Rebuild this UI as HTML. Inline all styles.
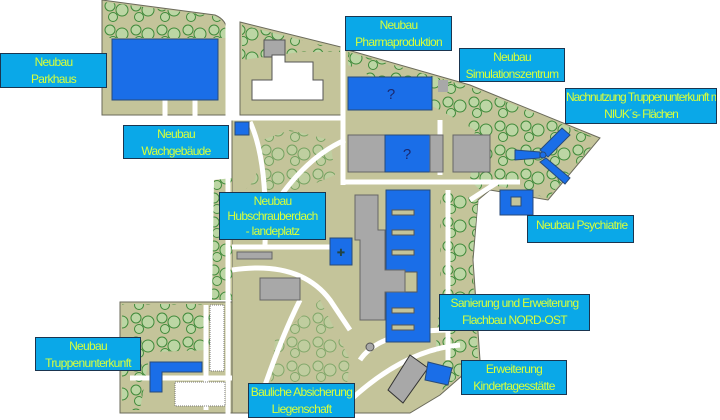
<!DOCTYPE html>
<html><head><meta charset="utf-8"><style>
body{margin:0;background:#fff;width:720px;height:420px;overflow:hidden;position:relative;font-family:"Liberation Sans",sans-serif}
.l{position:absolute;background:#0aa8e8;border:1.5px solid #1a3550;box-sizing:border-box;color:#d8ff3a;font-size:12px;letter-spacing:-0.7px;text-align:center;line-height:17px;padding-top:0px}
</style></head><body>
<svg width="720" height="420" style="position:absolute;left:0;top:0">
<defs>
<pattern id="tr" width="26" height="24" patternUnits="userSpaceOnUse">
<rect width="26" height="24" fill="#c4c49a"/>
<circle cx="6" cy="6" r="5" fill="#bcd6a4" stroke="#3f8a3a" stroke-width="1"/>
<circle cx="18" cy="10" r="6" fill="#bcd6a4" stroke="#3f8a3a" stroke-width="1"/>
<circle cx="9" cy="17" r="4.5" fill="#bcd6a4" stroke="#3f8a3a" stroke-width="1"/>
</pattern>
</defs>
<g fill="#c4c49a" stroke="#6a6a5a" stroke-width="1">
<path d="M102,0 L215,15 Q227,20 227,32 L227,115 L102,115 Z"/>
<path d="M240,22 L345,48 L345,115 L240,115 Z"/>
<path d="M348,50 L470,85 L600,138 L548,200 L490,190 L478,200 L473,260 L480,360 L440,395 L410,413 L232,413 L232,120 L345,120 L345,50 Z"/>
<path d="M120,302 L232,302 L232,413 L120,413 Z"/>
</g>
<g fill="url(#tr)">
<path d="M104,2 L215,16 Q226,22 226,34 L226,38 L104,38 Z"/>
<path d="M242,25 L340,50 L340,52 L300,52 L242,60 Z"/>
<path d="M348,52 L470,87 L598,139 L548,198 L500,186 L480,190 L470,180 L475,130 L440,110 L348,65 Z"/>
<path d="M440,188 L478,200 L472,260 L478,360 L440,392 L436,345 L440,300 Z"/>
<path d="M122,304 L210,304 L210,350 L150,352 L140,410 L122,410 Z"/>
<path d="M214,180 L232,178 L232,300 L212,300 Z"/>
<path d="M245,190 L255,180 L262,140 L290,130 L330,140 L335,175 L300,190 Z" opacity=".6"/>
<path d="M320,300 L350,360 L345,400 L300,408 L270,390 L275,340 Z" opacity=".5"/>
</g>
<g fill="none" stroke="#fff" stroke-width="5">
<path d="M228,0 L228,420"/><path d="M102,118 L345,118"/><path d="M343,30 L343,185"/>
<path d="M345,182 L520,182"/><path d="M498,182 L470,200"/>
<path d="M232,247 L330,247"/><path d="M250,122 Q268,160 265,245"/>
<path d="M265,220 Q300,160 345,140"/><path d="M440,120 L440,175"/>
<path d="M232,270 Q300,260 330,300 L350,330"/><path d="M300,300 Q280,340 260,400"/>
<path d="M360,360 Q380,330 450,330"/><path d="M340,410 Q400,350 460,345"/>
<path d="M448,190 L448,360"/><path d="M130,378 L232,378"/><path d="M206,305 L206,410"/>
<path d="M165,100 L165,118"/><path d="M195,100 L195,118"/>
</g>
<rect x="112" y="39" width="106" height="61" fill="#1a6ee8" stroke="#284a78"/>
<rect x="264" y="40" width="21" height="17" fill="#a8a8a8" stroke="#555"/>
<path d="M272,55 L285,55 L285,62 L313,62 L313,80 L323,80 L323,100 L252,100 L252,80 L272,80 Z" fill="#fff" stroke="#555"/>
<rect x="235" y="122" width="14" height="13" fill="#1a6ee8" stroke="#284a78"/>
<rect x="348" y="77" width="84" height="33" fill="#1a6ee8" stroke="#284a78"/>
<text x="391" y="99" font-size="15" fill="#1a2a70" text-anchor="middle">?</text>
<rect x="438" y="80" width="10" height="12" fill="#a8a8a8"/>
<rect x="348" y="135" width="37" height="37" fill="#a8a8a8" stroke="#666"/>
<rect x="385" y="135" width="45" height="37" fill="#1a6ee8" stroke="#284a78"/>
<text x="407" y="159" font-size="15" fill="#1a2a70" text-anchor="middle">?</text>
<rect x="430" y="135" width="13" height="37" fill="#a8a8a8" stroke="#666"/>
<rect x="453" y="135" width="37" height="37" fill="#a8a8a8" stroke="#666"/>
<g fill="#1a6ee8" stroke="#284a78">
<path d="M515,150 L540,152 L540,158 L515,160 Z"/>
<path d="M540,150 L562,128 L570,135 L548,157 Z"/>
<path d="M546,158 L570,178 L565,184 L540,162 Z"/>
<circle cx="543" cy="155" r="3"/>
</g>
<rect x="500" y="190" width="33" height="25" fill="#1a6ee8" stroke="#284a78"/>
<rect x="511" y="197" width="10" height="9" fill="#c4c49a" stroke="#284a78"/>
<rect x="386" y="190" width="44" height="152" fill="#1a6ee8" stroke="#284a78"/>
<g fill="#c4c49a" stroke="#555">
<rect x="392" y="210" width="22" height="5"/><rect x="392" y="230" width="22" height="5"/>
<rect x="392" y="250" width="22" height="5"/><rect x="392" y="272" width="25" height="20"/>
<rect x="392" y="308" width="22" height="5"/><rect x="392" y="325" width="22" height="5"/>
</g>
<path d="M355,195 L378,195 L378,230 L385,230 L385,270 L405,270 L405,292 L385,292 L385,320 L360,320 L360,240 L355,240 Z" fill="#a8a8a8" stroke="#666"/>
<rect x="330" y="238" width="22" height="27" fill="#1a6ee8" stroke="#284a78"/>
<text x="341" y="256" font-size="10" fill="#244" text-anchor="middle">✚</text>
<rect x="237" y="252" width="35" height="7" fill="#a8a8a8" stroke="#666"/>
<rect x="260" y="278" width="40" height="22" fill="#a8a8a8" stroke="#666"/>
<path d="M150,362 L202,362 L202,372 L162,372 L162,392 L150,392 Z" fill="#1a6ee8" stroke="#284a78"/>
<rect x="210" y="305" width="14" height="66" fill="#fff" stroke="#777" stroke-dasharray="1 1"/>
<rect x="175" y="382" width="50" height="24" fill="#fff" stroke="#777" stroke-dasharray="1 1"/>
<path d="M410,355 L428,368 L403,403 L388,390 Z" fill="#a8a8a8" stroke="#333"/>
<path d="M428,362 L452,368 L448,385 L425,380 Z" fill="#1a6ee8" stroke="#284a78"/>
<circle cx="370" cy="347" r="4" fill="#a8a8a8" stroke="#555"/>
</svg>
<div class="l" style="left:0;top:53px;width:107px;height:35px">Neubau<br>Parkhaus</div>
<div class="l" style="left:123px;top:125px;width:106px;height:34px">Neubau<br>Wachgebäude</div>
<div class="l" style="left:345px;top:16px;width:107px;height:35px">Neubau<br>Pharmaproduktion</div>
<div class="l" style="left:459px;top:48px;width:106px;height:34px">Neubau<br>Simulationszentrum</div>
<div class="l" style="left:565px;top:88px;width:152px;height:36px;white-space:nowrap;overflow:hidden;letter-spacing:-1px">Nachnutzung Truppenunterkunft mit<br>NIUK´s- Flächen</div>
<div class="l" style="left:219px;top:192px;width:107px;height:48px;line-height:15px;padding-top:1px">Neubau<br>Hubschrauberdach<br>- landeplatz</div>
<div class="l" style="left:527px;top:215px;width:107px;height:28px;text-align:left;padding-left:8px;line-height:18px">Neubau Psychiatrie</div>
<div class="l" style="left:439px;top:294px;width:151px;height:37px">Sanierung und Erweiterung<br>Flachbau NORD-OST</div>
<div class="l" style="left:35px;top:337px;width:106px;height:34px">Neubau<br>Truppenunterkunft</div>
<div class="l" style="left:248px;top:383px;width:107px;height:35px">Bauliche Absicherung<br>Liegenschaft</div>
<div class="l" style="left:461px;top:360px;width:106px;height:35px">Erweiterung<br>Kindertagesstätte</div>
</body></html>
